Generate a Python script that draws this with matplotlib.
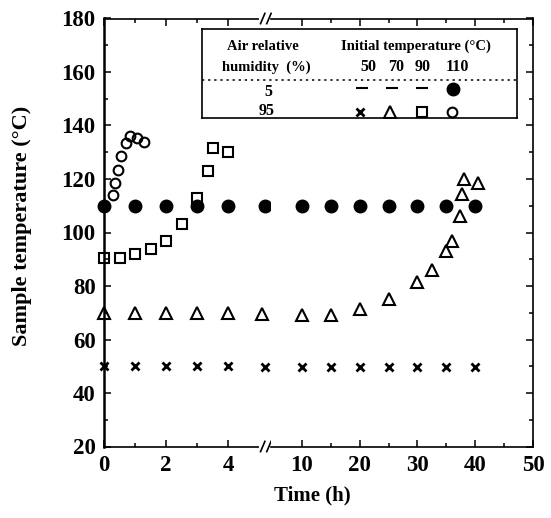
import numpy as np
import matplotlib
matplotlib.use("Agg")
import matplotlib.pyplot as plt

# Data (time in h, sample temperature in degC)
t_50_wet = [0, 1, 2, 3, 4, 5.2, 10, 15, 20, 25, 30, 35, 40]
y_50_wet = [50, 50, 50, 50, 50, 49.8, 49.8, 49.8, 49.8, 49.8, 49.8, 49.8, 49.8]

t_70_wet = [0, 1, 2, 3, 4, 5.1, 10, 15, 20, 25, 30, 32.5, 35, 36, 37.3, 37.7, 38, 40.4]
y_70_wet = [70, 70, 70, 70, 70, 69.5, 69, 69, 71.5, 75, 81.5, 86, 93, 97, 106, 114.5, 120, 118.5]

t_90_wet = [0, 0.5, 1, 1.5, 2, 2.5, 3, 3.35, 3.5, 4]
y_90_wet = [90.5, 90.5, 92, 94, 97, 103, 113, 123, 131.5, 130]

t_110_dry = [0, 1, 2, 3, 4, 5.2, 10, 15, 20, 25, 30, 35, 40]
y_110_dry = [110, 110, 110, 110, 110, 110, 110, 110, 110, 110, 110, 110, 110]

t_110_wet = [0.3, 0.35, 0.45, 0.55, 0.7, 0.85, 1.05, 1.3]
y_110_wet = [114, 118.5, 123.5, 128.5, 133.5, 136, 135.5, 134]

humidity_rows = ["5", "95"]
initial_temps = ["50", "70", "90", "110"]

FONT = "Liberation Serif"
BREAK = 7  # points below this go on the expanded left part of the axis

STYLES = {
    "x": dict(marker="x", ms=5.5, mew=2.0, color="black"),
    "tri": dict(marker="^", ms=9, mew=1.5, mfc="none", color="black"),
    "sq": dict(marker="s", ms=7.5, mew=1.5, mfc="none", color="black"),
    "oc": dict(marker="o", ms=7, mew=1.5, mfc="none", color="black"),
    "fc": dict(marker="o", ms=9, color="black"),
}


def plot_series(ax_lo, ax_hi, t, y, style):
    """
    Splits one series over the two parts of the broken time axis.
    """
    t = np.asarray(t)
    y = np.asarray(y)
    lo = t < BREAK
    kw = STYLES[style]
    if lo.any():
        ax_lo.plot(t[lo], y[lo], ls="none", clip_on=False, zorder=3, **kw)
    if (~lo).any():
        ax_hi.plot(t[~lo], y[~lo], ls="none", clip_on=False, zorder=3, **kw)


def style_axes(ax_lo, ax_hi):
    """
    Ticks, limits and spines of the broken axis.
    """
    for ax in (ax_lo, ax_hi):
        ax.set_ylim(20, 180)
        ax.tick_params(which="both", direction="in", top=True, width=1.1)
        ax.tick_params(which="major", length=5, pad=6, labelsize=16.5)
        ax.tick_params(which="minor", length=3)
        for side in ("top", "bottom", "left", "right"):
            ax.spines[side].set_linewidth(1.2)

    ax_lo.set_xlim(0, 167 / 31)
    ax_lo.set_xticks([0, 2, 4])
    ax_lo.set_xticks([1, 3], minor=True)
    ax_lo.set_yticks(np.arange(20, 181, 20))
    ax_lo.set_yticks(np.arange(30, 180, 20), minor=True)
    ax_lo.spines["right"].set_visible(False)
    ax_lo.spines["left"].set_linewidth(1.8)
    ax_lo.tick_params(which="both", right=False)

    ax_hi.set_xlim(50 - 262 / 5.78, 50)
    ax_hi.set_xticks([10, 20, 30, 40, 50])
    ax_hi.set_xticks([15, 25, 35, 45], minor=True)
    ax_hi.spines["left"].set_visible(False)
    ax_hi.tick_params(which="both", left=False, labelleft=False, right=True)

    for lab in ax_lo.get_xticklabels() + ax_lo.get_yticklabels() + ax_hi.get_xticklabels():
        lab.set_fontfamily(FONT)
        lab.set_fontweight("bold")

    # break marks on the bottom and top spines
    tr = ax_lo.get_xaxis_transform()
    for yy in (0, 1):
        ax_lo.plot([5.05, 5.5], [yy, yy], color="white", lw=3, transform=tr,
                   clip_on=False, zorder=4)
        for xx in (5.12, 5.32):
            ax_lo.plot([xx - 0.07, xx + 0.07], [yy - 0.012, yy + 0.012], color="black",
                       lw=1.2, transform=tr, clip_on=False, zorder=5)


def draw_legend(fig):
    """
    Table-like legend box in the upper right corner.
    """
    W, H = 551, 518
    x0, x1, y0, y1 = 201.7, 516.7, 29, 118
    lg = fig.add_axes([x0 / W, 1 - y1 / H, (x1 - x0) / W, (y1 - y0) / H])
    lg.set_xlim(x0, x1)
    lg.set_ylim(y1, y0)
    lg.set_xticks([])
    lg.set_yticks([])
    for side in lg.spines.values():
        side.set_linewidth(1.2)

    txt = dict(family=FONT, weight="bold", fontsize=10.5, ha="center", va="center")
    lg.text(263, 46, "Air relative", **txt)
    lg.text(266, 67, "humidity  (%)", **txt)
    lg.text(416, 46, "Initial temperature (°C)", **txt)
    num = dict(txt, fontsize=11.5)
    for xx, lab in zip([368, 396, 423, 457], initial_temps):
        lg.text(xx, 67, lab, **num)
    lg.axhline(80, ls=(0, (1.5, 2.5)), lw=1.1, color="black")
    lg.text(268, 92, humidity_rows[0], **num)
    lg.text(267, 111, humidity_rows[1], **num)

    lg.plot([362, 392, 422], [88, 88, 88], ls="none", marker="_", ms=9, mew=1.5, color="black")
    lg.plot([453], [89], ls="none", **STYLES["fc"])
    for xx, key in zip([360, 390, 421.7, 451.7], ["x", "tri", "sq", "oc"]):
        lg.plot([xx], [111.5], ls="none", **STYLES[key])


def draw_chart(out_path):
    """
    Main function: builds the broken-axis scatter chart and saves it.
    """
    fig = plt.figure(figsize=(5.51, 5.18), dpi=100)
    W, H = 551, 518
    bottom = 1 - 446.5 / H
    height = (446.5 - 18.5) / H
    ax_lo = fig.add_axes([104 / W, bottom, 167 / W, height])
    ax_hi = fig.add_axes([271 / W, bottom, 262 / W, height], sharey=ax_lo)

    plot_series(ax_lo, ax_hi, t_50_wet, y_50_wet, "x")
    plot_series(ax_lo, ax_hi, t_70_wet, y_70_wet, "tri")
    plot_series(ax_lo, ax_hi, t_110_dry, y_110_dry, "fc")
    plot_series(ax_lo, ax_hi, t_90_wet, y_90_wet, "sq")
    plot_series(ax_lo, ax_hi, t_110_wet, y_110_wet, "oc")

    style_axes(ax_lo, ax_hi)

    fig.text(22 / W, 1 - 226 / H, "Sample temperature (°C)", rotation=90,
             ha="center", va="center", family=FONT, weight="bold", fontsize=16)
    fig.text(312 / W, 1 - 495 / H, "Time (h)", ha="center", va="center",
             family=FONT, weight="bold", fontsize=15)

    draw_legend(fig)
    fig.savefig(out_path, dpi=100)


draw_chart("out.png")
